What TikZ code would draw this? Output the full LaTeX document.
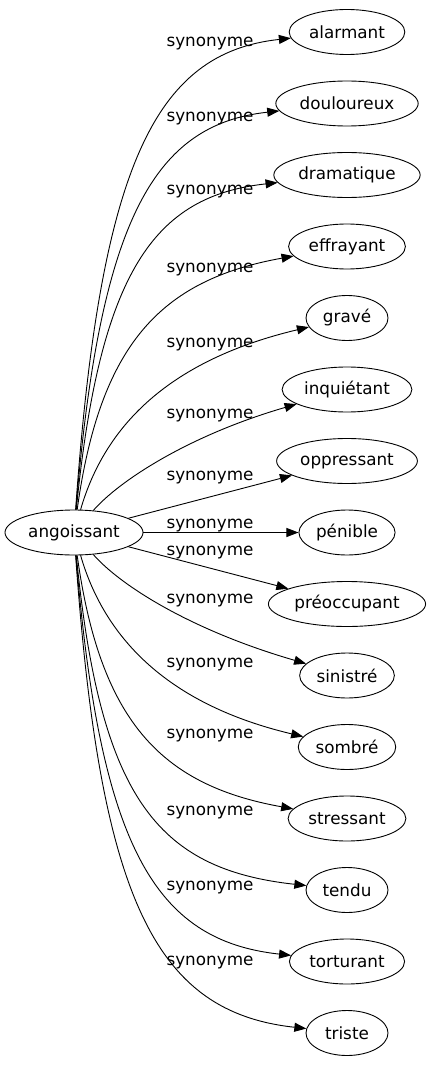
\documentclass[tikz,border=0pt]{standalone}
\usepackage{fontspec}
\setmainfont{DejaVu Sans}
\usepackage{tikz}
\usetikzlibrary{arrows.meta,shapes.geometric}

\begin{document}
\begin{tikzpicture}[x=1pt, y=-1pt,
		word/.style = {draw, ellipse, line width=.9pt, inner xsep=3pt, inner ysep=2pt,
			minimum width=82pt, minimum height=45pt, font=\fontsize{16.8}{20}\selectfont},
		rel/.style = {anchor=base, inner sep=0pt, font=\fontsize{16.8}{20}\selectfont},
		syn/.style = {-{Triangle[length=12pt,width=9pt]}, line width=.9pt}]
	\useasboundingbox (0,0) rectangle (431,1067);
	% the words
	\node[word] (angoissant) at (74,532.5) {angoissant};
	\node[word] (alarmant) at (347,32) {alarmant};
	\node[word] (douloureux) at (347,103.5) {douloureux};
	\node[word] (dramatique) at (347,175) {dramatique};
	\node[word] (effrayant) at (347,246.5) {effrayant};
	\node[word] (grave) at (347,318) {gravé};
	\node[word] (inquietant) at (347,389.5) {inquiétant};
	\node[word] (oppressant) at (347,461) {oppressant};
	\node[word] (penible) at (347,532.5) {pénible};
	\node[word] (preoccupant) at (347,604) {préoccupant};
	\node[word] (sinistre) at (347,675.5) {sinistré};
	\node[word] (sombre) at (347,747) {sombré};
	\node[word] (stressant) at (347,818.5) {stressant};
	\node[word] (tendu) at (347,890) {tendu};
	\node[word] (torturant) at (347,961.5) {torturant};
	\node[word] (triste) at (347,1033) {triste};
	% edges going up
	\draw[syn] (angoissant) .. controls (100,165) and (155,53) .. (alarmant);
	\draw[syn] (angoissant) .. controls (100,217) and (155,124.5) .. (douloureux);
	\draw[syn] (angoissant) .. controls (100,270) and (155,196) .. (dramatique);
	\draw[syn] (angoissant) .. controls (100,345) and (160,280) .. (effrayant);
	\draw[syn] (angoissant) .. controls (105,425) and (170,360) .. (grave);
	\draw[syn] (angoissant) .. controls (120,480) and (190,435) .. (inquietant);
	\draw[syn] (angoissant) -- (oppressant);
	\draw[syn] (angoissant) -- (penible);
	% edges going down
	\draw[syn] (angoissant) -- (preoccupant);
	\draw[syn] (angoissant) .. controls (120,585) and (190,630) .. (sinistre);
	\draw[syn] (angoissant) .. controls (105,640) and (170,705) .. (sombre);
	\draw[syn] (angoissant) .. controls (100,720) and (160,785) .. (stressant);
	\draw[syn] (angoissant) .. controls (100,795) and (155,869) .. (tendu);
	\draw[syn] (angoissant) .. controls (100,848) and (155,940.5) .. (torturant);
	\draw[syn] (angoissant) .. controls (100,900) and (155,1012) .. (triste);
	% labels
	\foreach \y [count=\i] in {47,122,195,272,347,418,480,528,555,603,667,738,815,890,965}
		\node[rel] (rel\i) at (210,\y) {synonyme};
\end{tikzpicture}
\end{document}
